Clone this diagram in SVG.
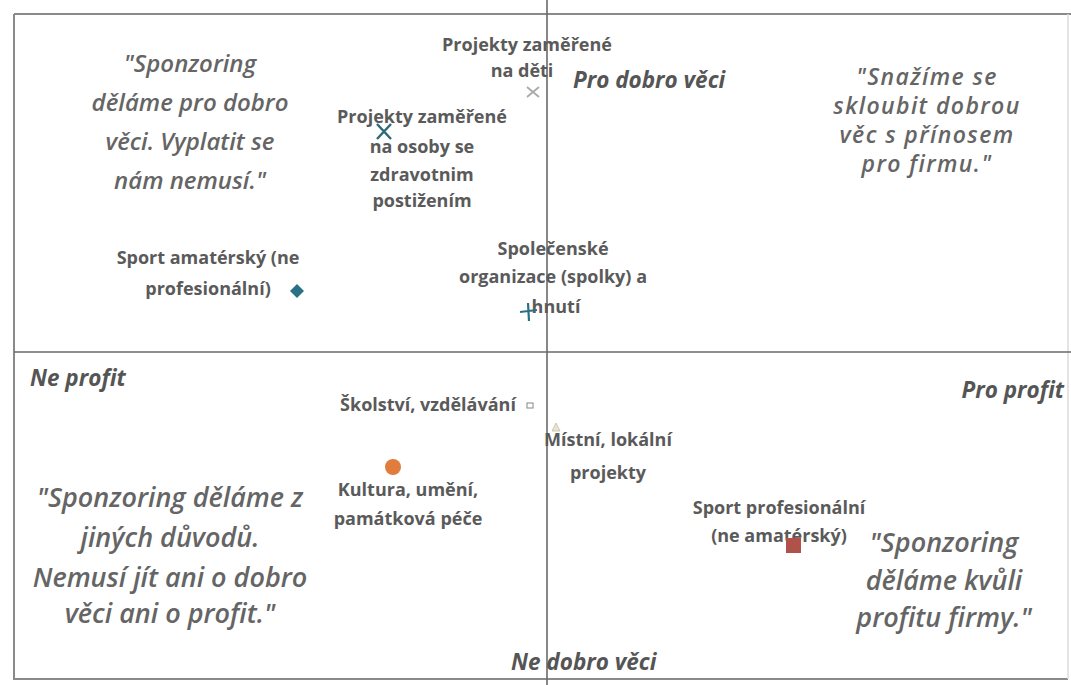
<svg xmlns="http://www.w3.org/2000/svg" width="1071" height="685" viewBox="0 0 1071 685">
<style>
.q{font-family:"Open Sans","Liberation Sans",sans-serif;font-style:italic;font-weight:600;fill:#656565;text-anchor:middle}
.q1{font-size:24px}
.q2{font-size:23px;letter-spacing:1.4px}
.q3{font-size:27px}
.ax{font-family:"Open Sans","Liberation Sans",sans-serif;font-style:italic;font-weight:700;font-size:22.5px;fill:#555}
.lb{font-family:"Open Sans","Liberation Sans",sans-serif;font-weight:700;font-size:18px;fill:#5a5a5a;text-anchor:middle}
.frame{stroke:#8a8a8a;stroke-width:2;fill:none}
.axis{stroke:#6a6a6a;stroke-width:1.6;fill:none}
</style>
<rect width="1071" height="685" fill="#fff"/>
<g id="frame">
<line class="frame" x1="14" y1="14" x2="1071" y2="14"/>
<line class="frame" x1="14" y1="14" x2="14" y2="680"/>
<line class="frame" x1="14" y1="679" x2="1068" y2="679" stroke="#999"/>
<line x1="1068" y1="14" x2="1068" y2="679" stroke="#ddd" stroke-width="1.5"/>
</g>
<g id="connectors">
<line class="axis" x1="547" y1="0" x2="547" y2="685"/>
<line class="axis" x1="14" y1="352" x2="1071" y2="352"/>
</g>
<g id="axis-labels">
<text class="ax" x="573" y="88">Pro dobro věci</text>
<text class="ax" x="30" y="386">Ne profit</text>
<text class="ax" x="1064" y="398" text-anchor="end">Pro profit</text>
<text class="ax" x="511" y="670">Ne dobro věci</text>
</g>
<g id="quote-tl" class="q q1">
<text x="190" y="72">"Sponzoring</text>
<text x="190" y="111">dělámе pro dobro</text>
<text x="190" y="150">věci. Vyplatit se</text>
<text x="190" y="189">nám nemusí."</text>
</g>
<g id="quote-tr" class="q q2">
<text x="927" y="85">"Snažíme se</text>
<text x="927" y="114">skloubit dobrou</text>
<text x="927" y="143">věc s přínosem</text>
<text x="927" y="172">pro firmu."</text>
</g>
<g id="quote-bl" class="q q3">
<text x="170" y="507">"Sponzoring dělámе z</text>
<text x="170" y="547">jiných důvodů.</text>
<text x="170" y="587">Nemusí jít ani o dobro</text>
<text x="170" y="623">věci ani o profit."</text>
</g>
<g id="quote-br" class="q q3">
<text x="944" y="552">"Sponzoring</text>
<text x="944" y="590">dělámе kvůli</text>
<text x="944" y="627">profitu firmy."</text>
</g>
<g id="node-deti">
<text class="lb" x="527" y="51">Projekty zaměřené</text>
<text class="lb" x="522" y="77">na děti</text>
<path d="M527 87 L539 97 M539 87 L527 97" stroke="#aaa" stroke-width="1.8"/>
</g>
<g id="node-postizeni">
<text class="lb" x="422" y="123">Projekty zaměřené</text>
<text class="lb" x="422" y="153">na osoby se</text>
<text class="lb" x="422" y="181">zdravotnim</text>
<text class="lb" x="422" y="207">postižením</text>
<path d="M377 124 L391 139 M391 124 L377 139" stroke="#2c6b78" stroke-width="2.5"/>
</g>
<g id="node-amater">
<text class="lb" x="208" y="264">Sport amatérský (ne</text>
<text class="lb" x="208" y="295">profesionální)</text>
<path d="M297 284 L304 291 L297 298 L290 291 Z" fill="#2a7186"/>
</g>
<g id="node-spolky">
<text class="lb" x="553" y="255">Společenské</text>
<text class="lb" x="553" y="283">organizace (spolky) a</text>
<text class="lb" x="556" y="313">hnutí</text>
<path d="M520 312 L537 310 M528 303 L529 321" stroke="#2a7186" stroke-width="2.2"/>
</g>
<g id="node-skolstvi">
<text class="lb" x="428" y="411">Školství, vzdělávání</text>
<rect x="527" y="403" width="6" height="5" fill="none" stroke="#999" stroke-width="1.2"/>
</g>
<g id="node-mistni">
<text class="lb" x="608" y="446">Místní, lokální</text>
<text class="lb" x="608" y="479">projekty</text>
<path d="M556 423 L560 431 L552 431 Z" fill="#eee4c0" stroke="#bbb" stroke-width="0.8"/>
</g>
<g id="node-kultura">
<circle cx="393" cy="467" r="8" fill="#e07c3c"/>
<text class="lb" x="408" y="496">Kultura, umění,</text>
<text class="lb" x="408" y="525">památková péče</text>
</g>
<g id="node-sport-prof">
<text class="lb" x="779" y="514">Sport profesionální</text>
<text class="lb" x="779" y="542">(ne amatérský)</text>
<rect x="786" y="538" width="15" height="15" fill="#b0524a"/>
</g>
</svg>
